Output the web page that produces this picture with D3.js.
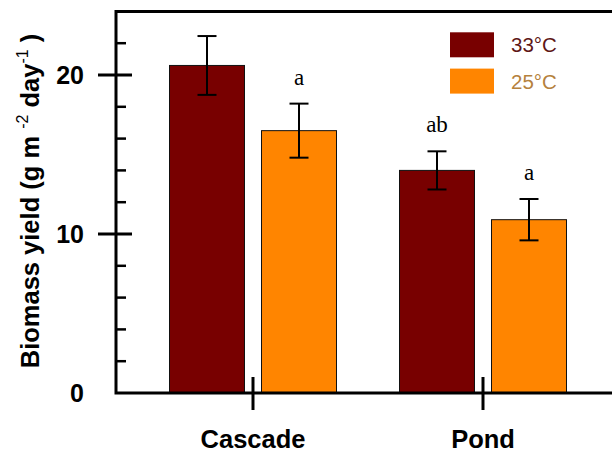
<!DOCTYPE html>
<html>
<head>
<meta charset="utf-8">
<script src="https://cdn.jsdelivr.net/npm/d3@7"></script>
<style>
  html, body { margin: 0; padding: 0; background: #fff; }
  svg { display: block; }
</style>
</head>
<body>
<svg id="chart" width="612" height="452"></svg>
<script>
// Biomass yield by cultivation system and temperature
const categories = ["Cascade", "Pond"];
const seriesNames = ["33°C", "25°C"];
const mean33 = [20.6, 14.0];
const err33 = [1.85, 1.2];
const mean25 = [16.5, 10.9];
const err25 = [1.7, 1.3];
const letters33 = ["", "ab"];
const letters25 = ["a", "a"];
const majorTicks = [0, 10, 20];
const minorTicks = [2, 4, 6, 8, 12, 14, 16, 18, 22];

const colors = { "33°C": "#780000", "25°C": "#ff8500" };
const legendTextColors = { "33°C": "#5e1616", "25°C": "#b5813d" };

const rows = categories.map((c, i) => ({
  category: c,
  bars: [
    { series: "33°C", value: mean33[i], err: err33[i], letter: letters33[i] },
    { series: "25°C", value: mean25[i], err: err25[i], letter: letters25[i] }
  ]
}));

const svg = d3.select("#chart");
const plotLeft = 116, plotTop = 11.4, plotBottom = 393, plotRight = 640;

const y = d3.scaleLinear().domain([0, 24]).range([plotBottom, plotTop]);
const x = d3.scaleBand().domain(categories).range([138, 598]).padding(0);
const xInner = d3.scaleBand().domain(seriesNames).range([-83.5, 83.5]).paddingInner(0.185);

// Bars
const groups = svg.selectAll("g.group").data(rows).join("g")
  .attr("class", "group")
  .attr("transform", d => `translate(${x(d.category) + x.bandwidth() / 2},0)`);

groups.selectAll("rect").data(d => d.bars).join("rect")
  .attr("x", d => xInner(d.series))
  .attr("width", xInner.bandwidth())
  .attr("y", d => y(d.value))
  .attr("height", d => y(0) - y(d.value))
  .attr("fill", d => colors[d.series])
  .attr("stroke", "#111")
  .attr("stroke-width", 1);

// Error bars
const eb = groups.selectAll("g.err").data(d => d.bars).join("g")
  .attr("class", "err")
  .attr("transform", d => `translate(${xInner(d.series) + xInner.bandwidth() / 2},0)`)
  .attr("stroke", "#000").attr("stroke-width", 2);
eb.append("line").attr("x1", 0).attr("x2", 0)
  .attr("y1", d => y(d.value + d.err)).attr("y2", d => y(d.value - d.err));
eb.append("line").attr("x1", -9.5).attr("x2", 9.5)
  .attr("y1", d => y(d.value + d.err)).attr("y2", d => y(d.value + d.err));
eb.append("line").attr("x1", -9.5).attr("x2", 9.5)
  .attr("y1", d => y(d.value - d.err)).attr("y2", d => y(d.value - d.err));

// Significance letters
groups.selectAll("text.letter").data(d => d.bars.filter(b => b.letter)).join("text")
  .attr("class", "letter")
  .attr("x", d => xInner(d.series) + xInner.bandwidth() / 2)
  .attr("y", d => y(d.value + d.err) - 19)
  .attr("text-anchor", "middle")
  .attr("font-family", "Liberation Serif, Times New Roman, serif")
  .attr("font-size", 23)
  .attr("fill", "#000")
  .text(d => d.letter);

// Frame (top and bottom lines, left axis)
svg.append("path")
  .attr("d", `M${plotRight},${plotTop} H${plotLeft} V${plotBottom} H${plotRight}`)
  .attr("fill", "none").attr("stroke", "#000").attr("stroke-width", 3);

// Y axis ticks
svg.append("g").selectAll("line").data(minorTicks).join("line")
  .attr("x1", plotLeft).attr("x2", plotLeft + 10)
  .attr("y1", d => y(d)).attr("y2", d => y(d))
  .attr("stroke", "#000").attr("stroke-width", 2.5);
svg.append("g").selectAll("line").data(majorTicks.filter(v => v > 0)).join("line")
  .attr("x1", plotLeft - 18).attr("x2", plotLeft + 16)
  .attr("y1", d => y(d)).attr("y2", d => y(d))
  .attr("stroke", "#000").attr("stroke-width", 3);
svg.append("g").selectAll("text").data(majorTicks).join("text")
  .attr("x", 84)
  .attr("y", d => y(d))
  .attr("dy", "0.36em")
  .attr("text-anchor", "end")
  .attr("font-family", "Liberation Sans, Arial, sans-serif")
  .attr("font-weight", "bold")
  .attr("font-size", 25)
  .text(d => d);

// X axis category ticks and labels
svg.append("g").selectAll("line").data(categories).join("line")
  .attr("x1", d => x(d) + x.bandwidth() / 2).attr("x2", d => x(d) + x.bandwidth() / 2)
  .attr("y1", plotBottom - 16).attr("y2", plotBottom + 17)
  .attr("stroke", "#000").attr("stroke-width", 3);
svg.append("g").selectAll("text").data(categories).join("text")
  .attr("x", d => x(d) + x.bandwidth() / 2)
  .attr("y", 448)
  .attr("text-anchor", "middle")
  .attr("font-family", "Liberation Sans, Arial, sans-serif")
  .attr("font-weight", "bold")
  .attr("font-size", 25.5)
  .text(d => d);

// Y axis title
const title = svg.append("text")
  .attr("transform", "translate(39,201) rotate(-90)")
  .attr("text-anchor", "middle")
  .attr("font-family", "Liberation Sans, Arial, sans-serif")
  .attr("font-weight", "bold")
  .attr("font-size", 25.5);
title.append("tspan").text("Biomass yield (g m ");
title.append("tspan").attr("dy", -11).attr("font-size", 16).attr("font-weight", "normal").text("-2");
title.append("tspan").attr("dy", 11).text(" day");
title.append("tspan").attr("dy", -11).attr("font-size", 16).attr("font-weight", "normal").text("-1");
title.append("tspan").attr("dy", 11).text(" )");

// Legend
const legend = svg.append("g").selectAll("g").data(seriesNames).join("g")
  .attr("transform", (d, i) => `translate(450,${32.3 + i * 36.3})`);
legend.append("rect").attr("width", 44).attr("height", 25)
  .attr("fill", d => colors[d]);
legend.append("text").attr("x", 61).attr("y", 20)
  .attr("font-family", "Liberation Sans, Arial, sans-serif")
  .attr("font-size", 20.5)
  .attr("fill", d => legendTextColors[d])
  .text(d => d);
</script>
</body>
</html>
